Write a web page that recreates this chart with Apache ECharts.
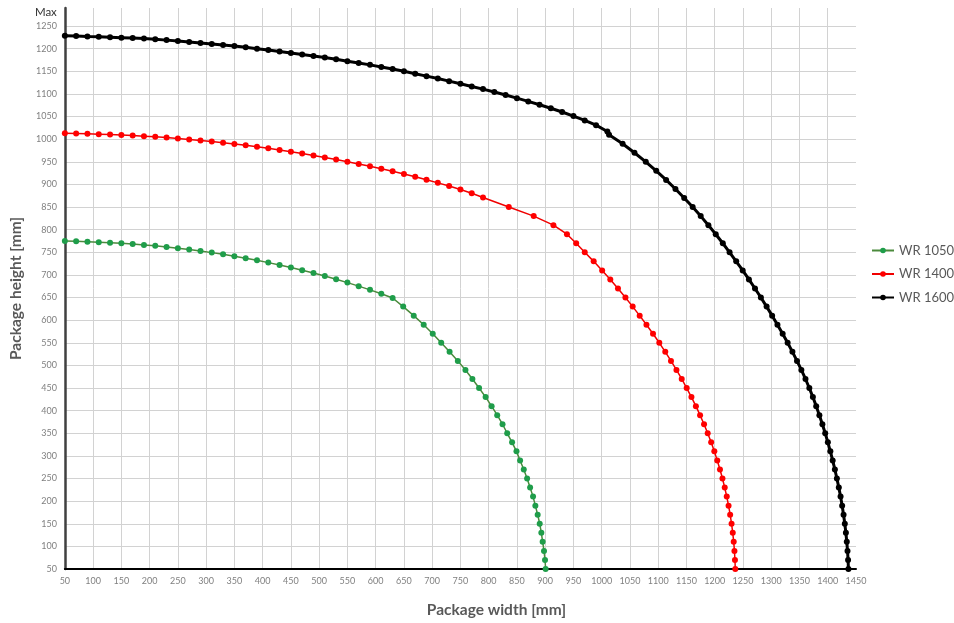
<!DOCTYPE html>
<html>
<head>
<meta charset="utf-8">
<script src="https://cdn.jsdelivr.net/npm/echarts@6/dist/echarts.min.js"></script>
<style>html,body{margin:0;padding:0;background:#fff}#c{width:954px;height:623px}</style>
</head>
<body>
<div id="c"></div>
<script>
// ---- data ----
const seriesNames = ['WR 1050', 'WR 1400', 'WR 1600'];

const wr1050X = [50,70,90,110,130,150,170,190,210,230,250,270,290,310,330,350,370,390,410,430,450,470,490,510,530,550,570,590,610,630,
  648.7,667.4,685,701,716,730.8,745.4,758.9,771.2,783,794.6,805.2,815.1,824.5,832.8,841.4,849.2,855.6,862.1,868,873.3,878.5,882.6,886.7,890.3,893.2,895.5,897.9,899.7,900.8];
const wr1050Y = [775,774.3,773.4,772.4,771.2,769.8,768.2,766.4,764.3,761.8,759,756,752.8,749.3,745.5,741.4,737,732.2,727.2,722,716.5,710.5,704.2,697.5,690.5,683,675.2,667,658.3,649,
  630,610,590,570,550,530,510,490,470,450,430,410,390,370,350,330,310,290,270,250,230,210,190,170,150,130,110,90,70,50];

const wr1400X = [50,70,90,110,130,150,170,190,210,230,250,270,290,310,330,350,370,390,410,430,450,470,490,510,530,550,570,590,610,630,650,670,690,710,730,750,770,790,
  835.6,879.7,914.6,938.5,954.8,970,985.8,1000.8,1015.2,1028.8,1042,1054.8,1067.2,1079.2,1090.8,1101.9,1112.5,1122.6,1132.3,1141.6,1150.4,1158.8,1166.7,1174.1,1181.1,1187.6,1193.7,1199.3,1204.5,1209.3,1213.7,1217.7,1221.3,1224.5,1227.3,1229.8,1231.9,1233.6,1234.9,1235.8,1236.4];
const wr1400Y = [1013,1012.6,1012,1011.2,1010.3,1009.2,1008,1006.7,1005.2,1003.5,1001.6,999.5,997.2,994.8,992.2,989.4,986.4,983.2,979.8,976.2,972.4,968.4,964.2,959.8,955.2,950.4,945.4,940.2,934.7,929,923,916.8,910.3,903.5,896.4,888.9,880.5,871,
  850,830,810,790,770,750,730,710,690,670,650,630,610,590,570,550,530,510,490,470,450,430,410,390,370,350,330,310,290,270,250,230,210,190,170,150,130,110,90,70,50];

const wr1600X = [50,70,90,110,130,150,170,190,210,230,250,270,290,310,330,350,370,390,410,430,450,470,490,510,530,550,570,590,610,630,650,670,690,710,730,750,770,790,810,830,850,870,890,910,930,950,970,990,1010,
  1013,1037,1058,1078,1096.5,1114,1130.5,1146,1161,1175.2,1188.8,1201.8,1214.3,1226.3,1238,1249.5,1260.5,1271.3,1281.7,1291.8,1301.6,1311,1320.2,1329,1337.5,1345.6,1353.3,1360.6,1367.4,1373.7,1379.6,1385.2,1390.5,1395.5,1400.2,1404.6,1408.7,1412.6,1416.2,1419.6,1422.7,1425.5,1428,1430.2,1432.1,1433.7,1435,1436,1436.6];
const wr1600Y = [1228.8,1228.2,1227.2,1226.3,1225.4,1224.5,1223.6,1222.4,1220.9,1219,1216.9,1214.7,1212.5,1210.5,1208.3,1205.8,1203,1200,1197,1194,1190.7,1187.4,1184,1180.5,1176.6,1172.5,1168.5,1164.3,1159.8,1155,1150,1144.7,1139.4,1134,1128.3,1122.5,1116.6,1110.7,1104.3,1097.6,1090.7,1083.6,1076.2,1068.5,1060.2,1051.2,1041.5,1031,1017,
  1010,990,970,950,930,910,890,870,850,830,810,790,770,750,730,710,690,670,650,630,610,590,570,550,530,510,490,470,450,430,410,390,370,350,330,310,290,270,250,230,210,190,170,150,130,110,90,70,50];

const xMin = 50, xMax = 1450, xStep = 50;
const yMin = 50, yMax = 1290, yStep = 50;
const yTopLabel = 'Max';
const xName = 'Package width [mm]';
const yName = 'Package height [mm]';

// ---- chart ----
const zip = (xs, ys) => xs.map((x, i) => [x, ys[i]]);
const FONT = 'Lato, "Open Sans", sans-serif';
const GRID = '#d2d2d2';

const nY = Math.floor((1250 - yMin) / yStep) + 2; // nice ticks + max tick
const yColors = []; for (let i = 0; i < nY; i++) yColors.push(i === nY - 1 ? 'rgba(0,0,0,0)' : GRID);
const nX = Math.floor((xMax - xMin) / xStep) + 1;
const xColors = []; for (let i = 0; i < nX; i++) xColors.push(i === nX - 1 ? 'rgba(0,0,0,0)' : GRID);

const chart = echarts.init(document.getElementById('c'), null, {renderer: 'canvas'});
chart.setOption({
  animation: false,
  backgroundColor: '#fff',
  grid: {left: 60, right: 98, top: 8, bottom: 47, containLabel: false},
  legend: {
    orient: 'vertical', left: 866, top: 239, itemGap: 10.5, itemWidth: 22, itemHeight: 7,
    textStyle: {fontFamily: FONT, fontSize: 13, color: '#595959'},
    data: seriesNames
  },
  xAxis: {
    type: 'value', min: xMin, max: xMax, interval: xStep,
    name: xName, nameLocation: 'middle', nameGap: 33,
    nameTextStyle: {fontFamily: FONT, fontSize: 15.5, fontWeight: 'bold', color: '#595959', padding: [0, 0, 0, 72]},
    axisLine: {show: true, lineStyle: {color: '#000', width: 2}},
    axisTick: {show: false},
    axisLabel: {fontFamily: FONT, fontSize: 9, color: '#808080', margin: 8, formatter: v => String(v)},
    splitLine: {show: true, lineStyle: {color: xColors, width: 1}}
  },
  yAxis: {
    type: 'value', min: yMin, max: yMax, interval: yStep,
    name: yName, nameLocation: 'middle', nameGap: 34, nameRotate: 90,
    nameTextStyle: {fontFamily: FONT, fontSize: 15.5, fontWeight: 'bold', color: '#595959'},
    axisLine: {show: true, onZero: false, lineStyle: {color: '#404040', width: 2.5}},
    axisTick: {show: false},
    axisLabel: {
      fontFamily: FONT, fontSize: 9, color: '#808080', margin: 8, showMaxLabel: true,
      formatter: v => (v === yMax ? '{m|' + yTopLabel + '}' : String(v)),
      rich: {m: {fontFamily: FONT, fontSize: 11.5, color: '#333', padding: [8, 0, 0, 0]}}
    },
    splitLine: {show: true, lineStyle: {color: yColors, width: 1}}
  },
  series: [
    {
      name: seriesNames[0], type: 'line', data: zip(wr1050X, wr1050Y),
      symbol: 'circle', symbolSize: 6, showAllSymbol: true,
      itemStyle: {color: '#1f9d4a'},
      lineStyle: {color: '#4b8a3c', width: 1.5}
    },
    {
      name: seriesNames[1], type: 'line', data: zip(wr1400X, wr1400Y),
      symbol: 'circle', symbolSize: 6, showAllSymbol: true,
      itemStyle: {color: '#ff0000'},
      lineStyle: {color: '#f00000', width: 1.5}
    },
    {
      name: seriesNames[2], type: 'line', data: zip(wr1600X, wr1600Y),
      symbol: 'circle', symbolSize: 6, showAllSymbol: true,
      itemStyle: {color: '#000'},
      lineStyle: {color: '#000', width: 3}
    }
  ]
});
</script>
</body>
</html>
